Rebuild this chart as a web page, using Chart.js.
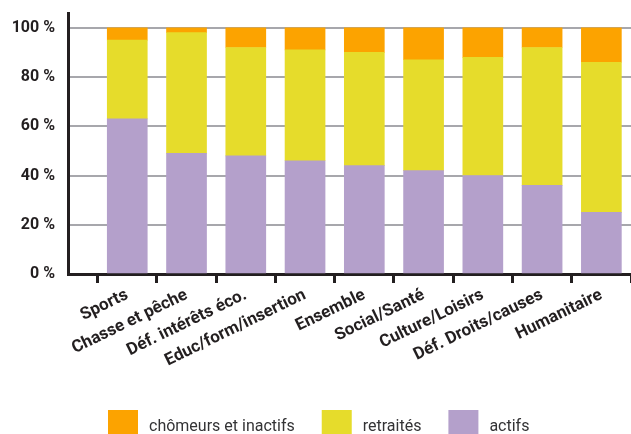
<!DOCTYPE html>
<html>
<head>
<meta charset="utf-8">
<script src="https://cdn.jsdelivr.net/npm/chart.js@4/dist/chart.umd.min.js"></script>
<style>
  html, body { margin: 0; padding: 0; background: #ffffff; }
  #wrap { width: 631px; height: 434px; position: relative; }
</style>
</head>
<body>
<div id="wrap"><canvas id="c" width="631" height="434"></canvas></div>
<script>
// Profil des bénévoles par domaine d'activité (en %)
const categories = ['Sports', 'Chasse et pêche', 'Déf. intérêts éco.', 'Educ/form/insertion',
                    'Ensemble', 'Social/Santé', 'Culture/Loisirs', 'Déf. Droits/causes', 'Humanitaire'];
const actifs    = [63, 49, 48, 46, 44, 42, 40, 36, 25];
const retraites = [32, 49, 44, 45, 46, 45, 48, 56, 61];
const chomeurs  = [5, 2, 8, 9, 10, 13, 12, 8, 14];
const yTicks = [0, 20, 40, 60, 80, 100];
const seriesNames = ['actifs', 'retraités', 'chômeurs et inactifs'];

const COLORS = ['#b4a0cb', '#e6dc2b', '#fca300'];
const INK = '#231f20';
const FONT = 'Roboto';

const toPoints = arr => arr.map((v, i) => ({ x: i, y: v }));

// Légende en bas : carré, texte, dans l'ordre inverse de l'empilement
const bottomLegend = {
  id: 'bottomLegend',
  afterDraw(chart) {
    const ctx = chart.ctx;
    const items = chart.data.datasets.slice().reverse();
    ctx.save();
    ctx.font = '16px ' + FONT;
    const box = 30, boxH = 24, gapText = 11, gapItem = 27;
    let total = 0;
    items.forEach((d, i) => {
      total += box + gapText + ctx.measureText(d.label).width + (i < items.length - 1 ? gapItem : 0);
    });
    let x = Math.round(chart.width / 2 + 3 - total / 2);
    const yBox = 410;
    items.forEach(d => {
      ctx.fillStyle = d.backgroundColor;
      ctx.fillRect(x, yBox, box, boxH);
      x += box + gapText;
      ctx.fillStyle = '#333335';
      ctx.textBaseline = 'alphabetic';
      ctx.textAlign = 'left';
      ctx.fillText(d.label, x, 431);
      x += ctx.measureText(d.label).width + gapItem;
    });
    ctx.restore();
  }
};

new Chart(document.getElementById('c'), {
  type: 'bar',
  data: {
    datasets: [
      { label: seriesNames[0], data: toPoints(actifs),    backgroundColor: COLORS[0] },
      { label: seriesNames[1], data: toPoints(retraites), backgroundColor: COLORS[1] },
      { label: seriesNames[2], data: toPoints(chomeurs),  backgroundColor: COLORS[2] }
    ]
  },
  options: {
    responsive: false,
    animation: false,
    devicePixelRatio: 1,
    barThickness: 40,
    layout: { padding: { top: 13, right: 0, left: 0, bottom: 0 } },
    plugins: { legend: { display: false }, tooltip: { enabled: false } },
    scales: {
      x: {
        type: 'linear',
        min: -1,
        max: 8.5,
        offset: false,
        stacked: true,
        afterBuildTicks: s => { s.ticks = [-1].concat(categories.map((_, i) => i)).map(v => ({ value: v })); },
        afterFit: s => { s.height = 160; s.paddingLeft = 0; s.paddingRight = 0; },
        grid: { drawOnChartArea: false, drawTicks: true, tickLength: 9, tickWidth: 3, tickColor: INK },
        border: { display: true, color: INK, width: 3 },
        ticks: {
          autoSkip: false,
          minRotation: 26,
          maxRotation: 26,
          padding: 2,
          color: INK,
          font: { family: FONT, weight: 'bold', size: 17 },
          callback: v => (categories[v] !== undefined ? categories[v] : '')
        }
      },
      y: {
        stacked: true,
        min: 0,
        max: 106,
        afterBuildTicks: s => { s.ticks = yTicks.map(v => ({ value: v })); },
        afterFit: s => { s.width = 68; s.paddingTop = 0; s.paddingBottom = 0; },
        grid: { color: '#a7a7ac', lineWidth: 2, drawTicks: false },
        border: { display: true, color: INK, width: 3 },
        ticks: {
          padding: 13,
          color: INK,
          font: { family: FONT, weight: 'bold', size: 16 },
          callback: v => v + ' %'
        }
      }
    }
  },
  plugins: [bottomLegend]
});
</script>
</body>
</html>
